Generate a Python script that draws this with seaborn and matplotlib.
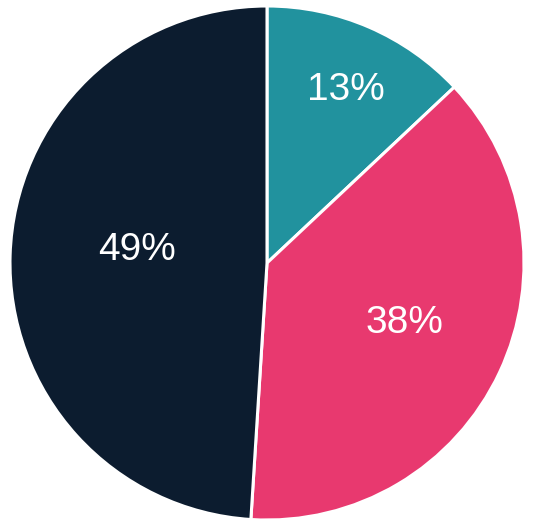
import numpy as np
import matplotlib
matplotlib.use("Agg")
import matplotlib.pyplot as plt
import seaborn as sns

labels = ["A", "B", "C"]
shares = [13, 38, 49]
colors = ["#21929E", "#E8396F", "#0C1C2F"]
# where each percent label sits inside its wedge (fraction of radius, angle nudge in degrees)
label_dist = [0.74, 0.585, 0.51]
label_nudge = [-1.2, 1.7, -4.0]

sns.set_theme(style="white")
plt.rcParams["font.family"] = ["Liberation Sans", "DejaVu Sans"]

fig = plt.figure(figsize=(5.35, 5.27), dpi=100)
ax = fig.add_axes([10 / 535, 7 / 527, 514 / 535, 514 / 527])
wedges, _ = ax.pie(shares, colors=colors, startangle=90, counterclock=False,
                   wedgeprops=dict(edgecolor="white", linewidth=2.2))
ax.set_xlim(-1, 1)
ax.set_ylim(-1, 1)
ax.set_aspect("equal")
ax.axis("off")

for w, s, d, nd in zip(wedges, shares, label_dist, label_nudge):
    ang = np.deg2rad((w.theta1 + w.theta2) / 2 + nd)
    ax.text(d * np.cos(ang), d * np.sin(ang), f"{s}%", color="white",
            fontsize=28, ha="center", va="center")

fig.savefig("out.png", dpi=100)
